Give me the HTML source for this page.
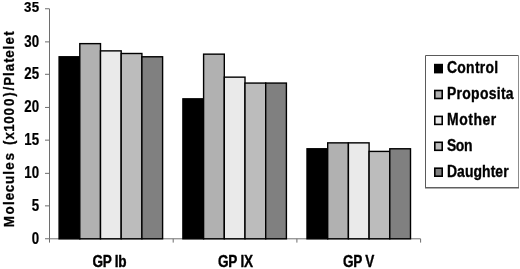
<!DOCTYPE html>
<html><head><meta charset="utf-8"><title>Chart</title>
<style>
html,body{margin:0;padding:0;background:#fff;}
svg{display:block;}
text{font-family:"Liberation Sans",Arial,sans-serif;font-weight:bold;fill:#000;font-size:16px;stroke:#000;stroke-width:0.35px;stroke-linejoin:round;}
</style></head><body>
<svg width="520" height="269" viewBox="0 0 520 269">
<rect width="520" height="269" fill="#fff"/>
<g stroke="#6e6e6e" stroke-width="1" fill="none">
<line x1="49.5" y1="8.82" x2="49.5" y2="238.8"/>
<line x1="49.5" y1="238.8" x2="420.6" y2="238.8"/>
<line x1="45.0" y1="238.75" x2="49.5" y2="238.75"/>
<line x1="45.0" y1="205.87" x2="49.5" y2="205.87"/>
<line x1="45.0" y1="173.35" x2="49.5" y2="173.35"/>
<line x1="45.0" y1="140.15" x2="49.5" y2="140.15"/>
<line x1="45.0" y1="107.44" x2="49.5" y2="107.44"/>
<line x1="45.0" y1="74.31" x2="49.5" y2="74.31"/>
<line x1="45.0" y1="41.89" x2="49.5" y2="41.89"/>
<line x1="45.0" y1="8.76" x2="49.5" y2="8.76"/>
<line x1="49.5" y1="238.8" x2="49.5" y2="242.6"/>
<line x1="173.2" y1="238.8" x2="173.2" y2="242.6"/>
<line x1="296.9" y1="238.8" x2="296.9" y2="242.6"/>
<line x1="420.6" y1="238.8" x2="420.6" y2="242.6"/>
</g>
<text transform="translate(31.81,243.50) scale(0.83,1.0)" style="letter-spacing:0.361px;stroke-width:0.22px">0</text>
<text transform="translate(31.81,210.62) scale(0.83,1.0)" style="letter-spacing:0.361px;stroke-width:0.22px">5</text>
<text transform="translate(24.13,178.10) scale(0.83,1.0)" style="letter-spacing:0.361px;stroke-width:0.22px">10</text>
<text transform="translate(24.13,144.90) scale(0.83,1.0)" style="letter-spacing:0.361px;stroke-width:0.22px">15</text>
<text transform="translate(24.13,112.19) scale(0.83,1.0)" style="letter-spacing:0.361px;stroke-width:0.22px">20</text>
<text transform="translate(24.13,79.06) scale(0.83,1.0)" style="letter-spacing:0.361px;stroke-width:0.22px">25</text>
<text transform="translate(24.13,46.64) scale(0.83,1.0)" style="letter-spacing:0.361px;stroke-width:0.22px">30</text>
<text transform="translate(24.03,11.80) scale(0.83,0.9)" style="letter-spacing:0.361px;stroke-width:0.22px">35</text>
<text transform="translate(13.7,227.6) rotate(-90) scale(0.84,0.94)" style="stroke-width:0.3px" x="0.52 15.60 27.05 32.59 42.11 52.01 62.88 68.89 79.96 91.76 98.20 104.76 114.08 123.61 133.53 144.64 155.89 163.12 168.87 180.52 186.22 196.25 202.36 212.06 217.90 228.32">Molecules (x1000)/Platelet</text>
<rect x="59.10" y="56.78" width="20.70" height="182.02" fill="#000000" stroke="#000" stroke-width="1.4"/>
<rect x="79.80" y="43.64" width="20.70" height="195.16" fill="#b1b1b1" stroke="#000" stroke-width="1.4"/>
<rect x="100.50" y="50.87" width="20.70" height="187.93" fill="#eaeaea" stroke="#000" stroke-width="1.4"/>
<rect x="121.20" y="53.50" width="20.70" height="185.30" fill="#bcbcbc" stroke="#000" stroke-width="1.4"/>
<rect x="141.90" y="56.78" width="20.70" height="182.02" fill="#808080" stroke="#000" stroke-width="1.4"/>
<rect x="182.90" y="98.84" width="20.70" height="139.96" fill="#000000" stroke="#000" stroke-width="1.4"/>
<rect x="203.60" y="54.15" width="20.70" height="184.65" fill="#b1b1b1" stroke="#000" stroke-width="1.4"/>
<rect x="224.30" y="77.15" width="20.70" height="161.65" fill="#eaeaea" stroke="#000" stroke-width="1.4"/>
<rect x="245.00" y="83.07" width="20.70" height="155.73" fill="#bcbcbc" stroke="#000" stroke-width="1.4"/>
<rect x="265.70" y="83.07" width="20.70" height="155.73" fill="#808080" stroke="#000" stroke-width="1.4"/>
<rect x="307.00" y="148.78" width="20.70" height="90.02" fill="#000000" stroke="#000" stroke-width="1.4"/>
<rect x="327.70" y="142.86" width="20.70" height="95.94" fill="#b1b1b1" stroke="#000" stroke-width="1.4"/>
<rect x="348.40" y="142.86" width="20.70" height="95.94" fill="#eaeaea" stroke="#000" stroke-width="1.4"/>
<rect x="369.10" y="151.41" width="20.70" height="87.39" fill="#bcbcbc" stroke="#000" stroke-width="1.4"/>
<rect x="389.80" y="148.78" width="20.70" height="90.02" fill="#808080" stroke="#000" stroke-width="1.4"/>
<text transform="translate(92.40,266.70) scale(0.85,1.0)" style="letter-spacing:-0.314px">GP Ib</text>
<text transform="translate(218.00,266.70) scale(0.85,1.0)" style="letter-spacing:-0.303px">GP IX</text>
<text transform="translate(343.00,266.70) scale(0.85,1.0)" style="letter-spacing:-0.336px">GP V</text>
<rect x="425.5" y="55.5" width="93" height="132.2" fill="#fff" stroke="none"/>
<path d="M425.5 188 V55.5 H518.5" fill="none" stroke="#5a5a5a" stroke-width="1"/>
<path d="M518.5 55.5 V187.7" fill="none" stroke="#8c8c8c" stroke-width="1"/>
<path d="M425 187.7 H519" fill="none" stroke="#606060" stroke-width="1.4"/>
<rect x="434.8" y="64.60" width="7.4" height="8.0" fill="#000000" stroke="#000" stroke-width="1.6"/>
<text transform="translate(447.00,72.90) scale(0.87,1.0)" style="letter-spacing:0.328px">Control</text>
<rect x="434.8" y="90.50" width="7.4" height="8.0" fill="#b1b1b1" stroke="#000" stroke-width="1.6"/>
<text transform="translate(447.00,98.80) scale(0.87,1.0)" style="letter-spacing:0.347px">Proposita</text>
<rect x="434.8" y="116.40" width="7.4" height="8.0" fill="#eaeaea" stroke="#000" stroke-width="1.6"/>
<text transform="translate(447.00,124.70) scale(0.87,1.0)" style="letter-spacing:0.644px">Mother</text>
<rect x="434.8" y="142.30" width="7.4" height="8.0" fill="#bcbcbc" stroke="#000" stroke-width="1.6"/>
<text transform="translate(447.00,150.60) scale(0.87,1.0)" style="letter-spacing:-0.512px">Son</text>
<rect x="434.8" y="168.20" width="7.4" height="8.0" fill="#808080" stroke="#000" stroke-width="1.6"/>
<text transform="translate(447.00,176.50) scale(0.87,1.0)" style="letter-spacing:0.082px">Daughter</text>
</svg></body></html>
